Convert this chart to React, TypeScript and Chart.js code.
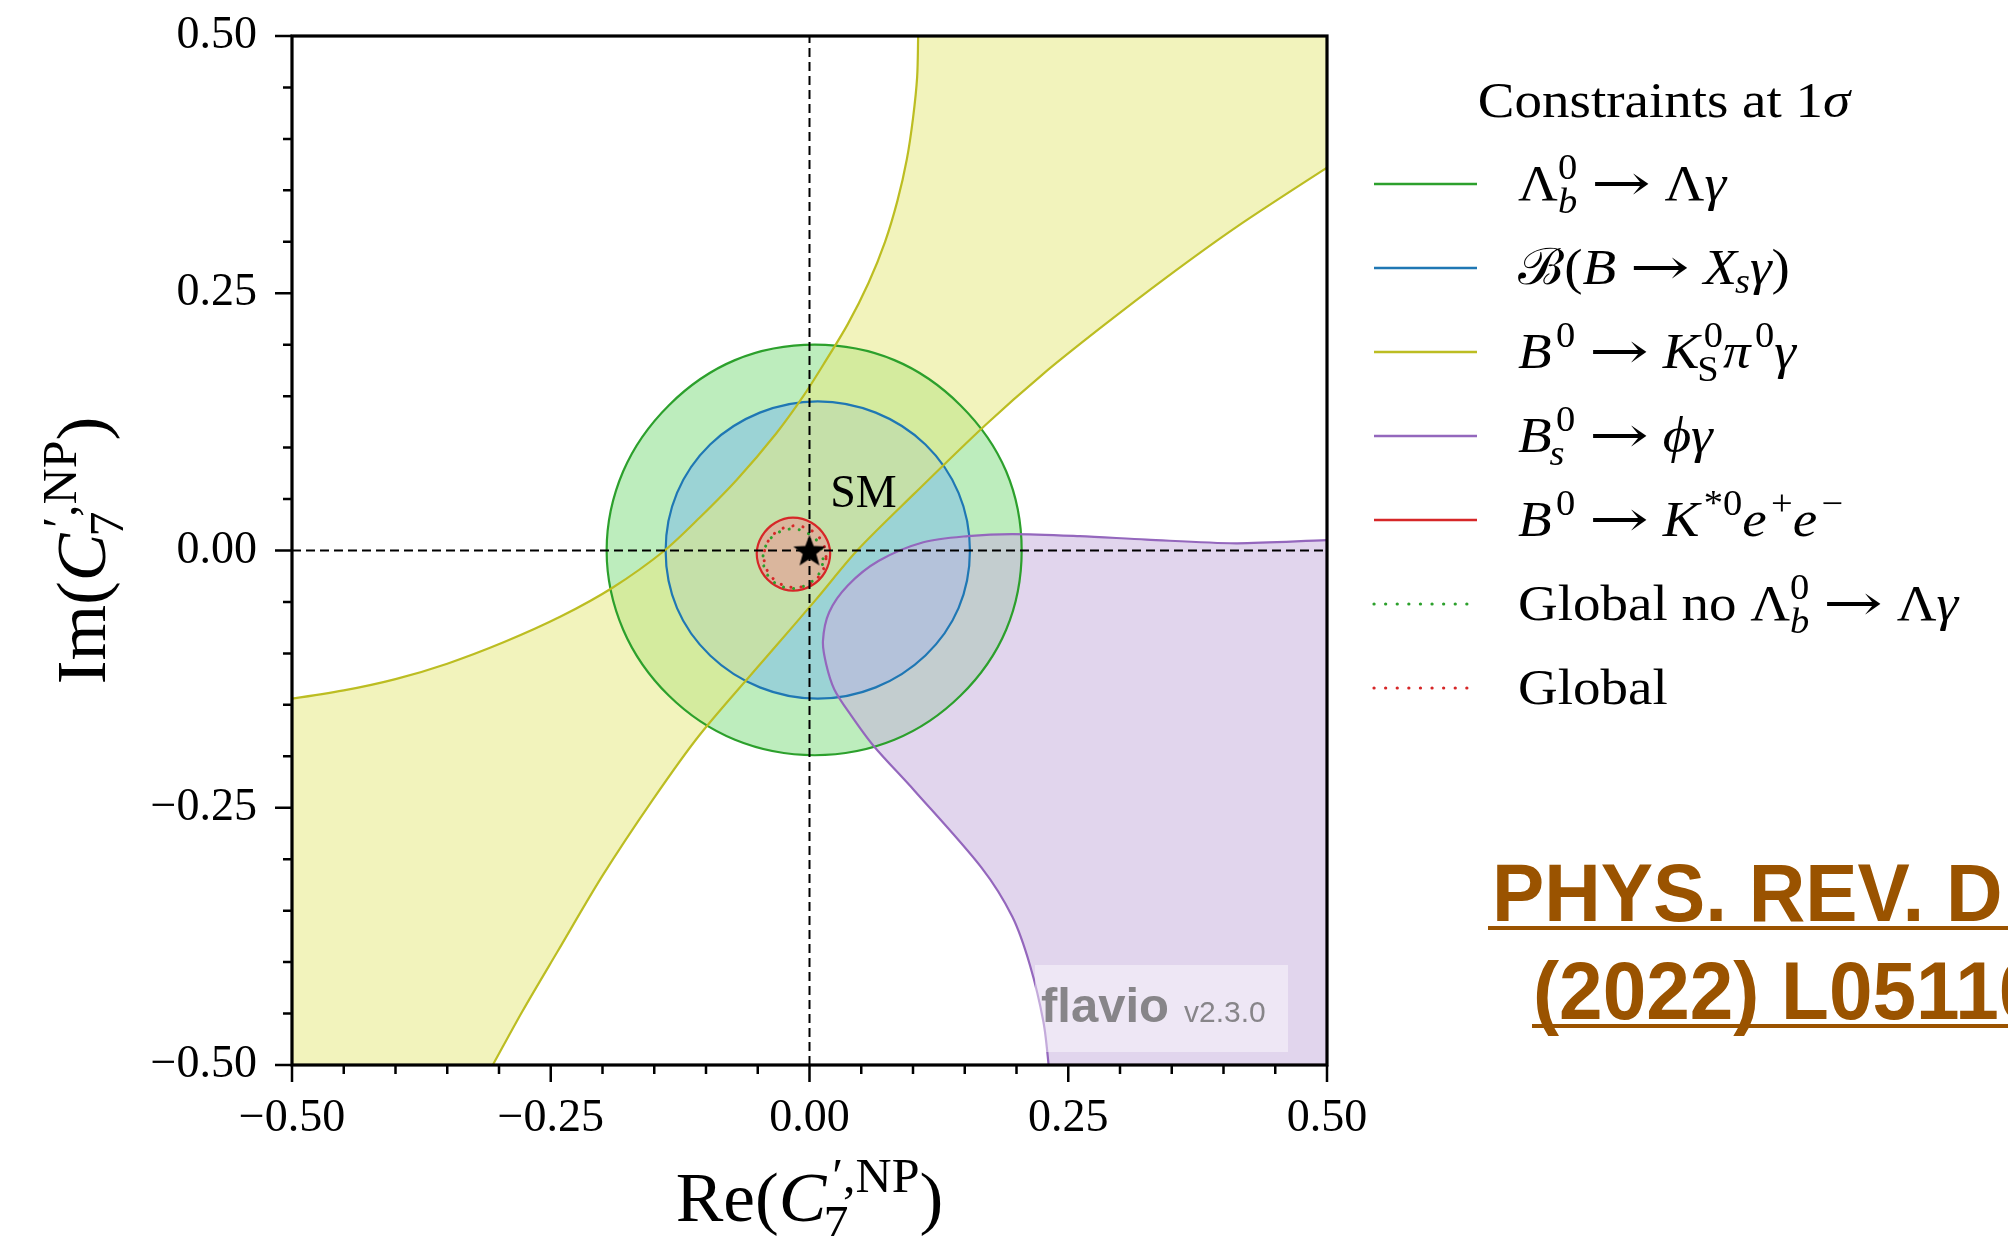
import React, { useEffect, useRef } from 'react';
import { Chart, registerables } from 'chart.js';

Chart.register(...registerables);

type Pt = [number, number];
type Run = { t: string; i?: boolean; f?: string; sx?: number; sup?: Run; sub?: Run };

const SERIF = '"Liberation Serif", "DejaVu Serif", serif';
const ARROW_FONT = '"DejaVu Serif", "DejaVu Sans", serif';
const SANS = '"Liberation Sans", Arial, sans-serif';

// ---- axis ticks ----
const majorTicks = [-0.5, -0.25, 0, 0.25, 0.5];
const minorTicks = [-0.45, -0.4, -0.35, -0.3, -0.2, -0.15, -0.1, -0.05, 0.05, 0.1, 0.15, 0.2, 0.3, 0.35, 0.4, 0.45];

// ---- 1 sigma contours in the (Re C7', Im C7') plane ----
// Lambda_b -> Lambda gamma
const lambdaBContour: Pt[] = [
  [0.205, 0.0], [0.19, 0.077], [0.146, 0.141], [0.082, 0.185],
  [0.005, 0.2], [-0.072, 0.185], [-0.136, 0.141], [-0.18, 0.077],
  [-0.196, 0.0], [-0.18, -0.077], [-0.136, -0.141], [-0.072, -0.184],
  [0.005, -0.199], [0.082, -0.184], [0.146, -0.141], [0.19, -0.077],
];

// B(B -> Xs gamma)
const bXsGammaContour: Pt[] = [
  [0.155, 0.0], [0.144, 0.056], [0.112, 0.103], [0.064, 0.134],
  [0.008, 0.145], [-0.048, 0.134], [-0.096, 0.103], [-0.128, 0.056],
  [-0.139, 0.0], [-0.128, -0.056], [-0.096, -0.102], [-0.048, -0.133],
  [0.008, -0.144], [0.064, -0.133], [0.112, -0.102], [0.144, -0.056],
];

// B0 -> KS pi0 gamma (band between two branches, closed outside the frame)
const kspi0GammaBand: Pt[] = [
  [0.107, 0.58], [0.106, 0.54], [0.105, 0.5], [0.104, 0.46], [0.1, 0.42],
  [0.094, 0.38], [0.085, 0.34], [0.073, 0.3], [0.057, 0.26], [0.037, 0.22],
  [0.013, 0.18], [-0.006, 0.15], [-0.032, 0.114], [-0.07, 0.069], [-0.106, 0.032],
  [-0.14, 0.0], [-0.19, -0.036], [-0.24, -0.064], [-0.295, -0.089], [-0.35, -0.11],
  [-0.4, -0.125], [-0.45, -0.136], [-0.5, -0.144], [-0.54, -0.149], [-0.58, -0.153],
  [-0.7, -0.7],
  [-0.35, -0.58], [-0.328, -0.54], [-0.306, -0.5], [-0.2775, -0.448], [-0.243, -0.389],
  [-0.2, -0.316], [-0.152, -0.243], [-0.106, -0.179], [-0.036, -0.097], [0.006, -0.048],
  [0.046, 0.0], [0.101, 0.055], [0.17, 0.122], [0.225, 0.171], [0.282, 0.217],
  [0.343, 0.264], [0.412, 0.314], [0.5, 0.372], [0.54, 0.397], [0.58, 0.421],
  [0.7, 0.7],
];

// Bs -> phi gamma (region to the lower right of the curve)
const bsPhiGammaRegion: Pt[] = [
  [0.58, 0.012], [0.54, 0.011], [0.5, 0.01], [0.412, 0.007], [0.3255, 0.0106],
  [0.261, 0.014], [0.196, 0.016], [0.153, 0.014], [0.11, 0.008], [0.067, -0.01],
  [0.037, -0.034], [0.019, -0.06], [0.013, -0.088], [0.016, -0.11], [0.024, -0.135],
  [0.04, -0.16], [0.062, -0.19], [0.101, -0.233], [0.166, -0.308], [0.196, -0.356],
  [0.213, -0.403], [0.226, -0.458], [0.231, -0.5], [0.234, -0.54], [0.236, -0.58],
  [0.7, -0.7],
];

// B0 -> K*0 e+ e-
const kstarEEContour: Pt[] = [
  [0.02, -0.003], [0.015, 0.014], [0.002, 0.027], [-0.016, 0.032],
  [-0.033, 0.027], [-0.046, 0.014], [-0.051, -0.003], [-0.046, -0.021],
  [-0.033, -0.034], [-0.016, -0.039], [0.002, -0.034], [0.015, -0.021],
];

// Global fit without Lambda_b -> Lambda gamma
const globalNoLambdaBContour: Pt[] = [
  [0.013, -0.008], [0.009, 0.007], [-0.002, 0.017], [-0.016, 0.021],
  [-0.031, 0.017], [-0.041, 0.007], [-0.045, -0.008], [-0.041, -0.023],
  [-0.031, -0.033], [-0.016, -0.037], [-0.002, -0.033], [0.009, -0.023],
];

// Global fit
const globalContour: Pt[] = [
  [0.016, -0.006], [0.012, 0.009], [0.001, 0.02], [-0.014, 0.024],
  [-0.029, 0.02], [-0.04, 0.009], [-0.044, -0.006], [-0.04, -0.021],
  [-0.029, -0.032], [-0.014, -0.036], [0.001, -0.032], [0.012, -0.021],
];

const zeroLineRe: Pt[] = [[0, -0.5], [0, 0.5]];
const zeroLineIm: Pt[] = [[-0.5, 0], [0.5, 0]];
const smPoint: Pt[] = [[0, 0]];
const smLabel = { x: 0.02, y: 0.042, text: 'SM' };

// ---- legend ----
const sp: Run = { t: ' ' };
const arrowGlyph: Run = { t: '→', f: ARROW_FONT, sx: 1.3 };
const arrow: Run[] = [sp, arrowGlyph, sp];
const legendTitle: Run[] = [{ t: 'Constraints at 1' }, { t: 'σ', i: true }];
const legendLabels: Run[][] = [
  [{ t: 'Λ', sub: { t: 'b', i: true }, sup: { t: '0' } }, ...arrow, { t: 'Λ' }, { t: 'γ', i: true }],
  [{ t: 'ℬ' }, { t: '(' }, { t: 'B', i: true }, ...arrow, { t: 'X', i: true, sub: { t: 's', i: true } }, { t: 'γ', i: true }, { t: ')' }],
  [{ t: 'B', i: true, sup: { t: '0' } }, ...arrow, { t: 'K', i: true, sub: { t: 'S' }, sup: { t: '0' } }, { t: 'π', i: true, sup: { t: '0' } }, { t: 'γ', i: true }],
  [{ t: 'B', i: true, sub: { t: 's', i: true }, sup: { t: '0' } }, ...arrow, { t: 'ϕ', i: true }, { t: 'γ', i: true }],
  [{ t: 'B', i: true, sup: { t: '0' } }, ...arrow, { t: 'K', i: true, sup: { t: '*0' } }, { t: 'e', i: true, sup: { t: '+' } }, { t: 'e', i: true, sup: { t: '−' } }],
  [{ t: 'Global no ' }, { t: 'Λ', sub: { t: 'b', i: true }, sup: { t: '0' } }, ...arrow, { t: 'Λ' }, { t: 'γ', i: true }],
  [{ t: 'Global' }],
];
const legendColors = ['#2ca02c', '#1f77b4', '#bcbd22', '#9467bd', '#d62728', '#2ca02c', '#d62728'];
const legendDotted = [false, false, false, false, false, true, true];

const xTitle: Run[] = [{ t: 'Re(' }, { t: 'C', i: true, sup: { t: '′,NP' }, sub: { t: '7' } }, { t: ')' }];
const yTitle: Run[] = [{ t: 'Im(' }, { t: 'C', i: true, sup: { t: '′,NP' }, sub: { t: '7' } }, { t: ')' }];

const journalLines = ['PHYS. REV. D 105', '(2022) L051104'];

const toXY = (pts: Pt[]) => pts.map(([x, y]) => ({ x, y }));
const fmtTick = (v: number) => v.toFixed(2).replace('-', '−');

function fontOf(size: number, italic?: boolean, family?: string) {
  return `${italic ? 'italic ' : ''}${size}px ${family || SERIF}`;
}

function runWidth(ctx: CanvasRenderingContext2D, r: Run, size: number) {
  ctx.font = fontOf(size, r.i, r.f);
  const w = ctx.measureText(r.t).width * (r.sx || 1);
  const s = size * 0.7;
  let sw = 0;
  if (r.sup) {
    ctx.font = fontOf(s, r.sup.i, r.sup.f);
    sw = Math.max(sw, ctx.measureText(r.sup.t).width + (r.i ? size * 0.08 : 0));
  }
  if (r.sub) {
    ctx.font = fontOf(s, r.sub.i, r.sub.f);
    sw = Math.max(sw, ctx.measureText(r.sub.t).width);
  }
  return w + sw;
}

function drawRuns(
  ctx: CanvasRenderingContext2D,
  runs: Run[],
  x: number,
  y: number,
  size: number,
  align: 'left' | 'center',
  hs = 1,
) {
  const total = runs.reduce((acc, r) => acc + runWidth(ctx, r, size), 0) * hs;
  const x0 = align === 'center' ? x - total / 2 : x;
  ctx.save();
  ctx.translate(x0, y);
  ctx.scale(hs, 1);
  ctx.textAlign = 'left';
  ctx.textBaseline = 'alphabetic';
  let cx = 0;
  for (const r of runs) {
    ctx.font = fontOf(size, r.i, r.f);
    const sx = r.sx || 1;
    const w = ctx.measureText(r.t).width * sx;
    if (sx !== 1) {
      ctx.save();
      ctx.translate(cx, 0);
      ctx.scale(sx, 1);
      ctx.fillText(r.t, 0, 0);
      ctx.restore();
    } else {
      ctx.fillText(r.t, cx, 0);
    }
    const s = size * 0.7;
    let sw = 0;
    if (r.sup) {
      const off = r.i ? size * 0.08 : 0;
      ctx.font = fontOf(s, r.sup.i, r.sup.f);
      ctx.fillText(r.sup.t, cx + w + off, -size * 0.42);
      sw = Math.max(sw, ctx.measureText(r.sup.t).width + off);
    }
    if (r.sub) {
      const off = r.i ? -size * 0.04 : 0;
      ctx.font = fontOf(s, r.sub.i, r.sub.f);
      ctx.fillText(r.sub.t, cx + w + off, size * (r.sup ? 0.26 : 0.18));
      sw = Math.max(sw, ctx.measureText(r.sub.t).width + off);
    }
    cx += w + sw;
  }
  ctx.restore();
}

function makeStar(r: number) {
  const c = document.createElement('canvas');
  const size = Math.ceil(r * 2 + 4);
  c.width = size;
  c.height = size;
  const g = c.getContext('2d')!;
  g.translate(size / 2, size / 2 + r * 0.08);
  g.beginPath();
  for (let k = 0; k < 10; k++) {
    const rad = k % 2 === 0 ? r : r * 0.42;
    const ang = -Math.PI / 2 + (k * Math.PI) / 5;
    const px = rad * Math.cos(ang);
    const py = rad * Math.sin(ang);
    if (k === 0) g.moveTo(px, py);
    else g.lineTo(px, py);
  }
  g.closePath();
  g.fillStyle = '#000';
  g.fill();
  return c;
}

// Closed contours: treat the line element as a loop so the spline wraps smoothly.
const closedLoopPlugin = {
  id: 'closedLoop',
  afterDatasetsUpdate(chart: any) {
    chart.data.datasets.forEach((ds: any, i: number) => {
      if (!ds.closed) return;
      const line: any = chart.getDatasetMeta(i).dataset;
      if (!line) return;
      line._loop = true;
      line._fullLoop = true;
      line._pointsUpdated = false;
      line._segments = undefined;
      line._path = undefined;
    });
  },
};

const decorPlugin = {
  id: 'decor',
  afterDatasetsDraw(chart: any) {
    const { ctx, chartArea: a, scales } = chart;
    const xs = scales.x;
    const ys = scales.y;
    ctx.save();
    // SM label
    ctx.fillStyle = '#000';
    ctx.font = fontOf(46);
    ctx.textAlign = 'left';
    ctx.textBaseline = 'alphabetic';
    ctx.fillText(smLabel.text, xs.getPixelForValue(smLabel.x), ys.getPixelForValue(smLabel.y));

    // flavio watermark
    ctx.fillStyle = 'rgba(255,255,255,0.45)';
    ctx.fillRect(a.right - 292, a.bottom - 100, 253, 87);
    ctx.fillStyle = 'rgba(100,100,100,0.75)';
    ctx.font = `bold 49px ${SANS}`;
    ctx.fillText('flavio', a.right - 286, a.bottom - 43);
    ctx.font = `30px ${SANS}`;
    ctx.fillText('v2.3.0', a.right - 143, a.bottom - 43);

    // tick marks (outside, left and bottom)
    ctx.strokeStyle = '#000';
    ctx.lineWidth = 2.5;
    ctx.beginPath();
    for (const v of majorTicks) {
      const px = xs.getPixelForValue(v);
      ctx.moveTo(px, a.bottom);
      ctx.lineTo(px, a.bottom + 17);
      const py = ys.getPixelForValue(v);
      ctx.moveTo(a.left, py);
      ctx.lineTo(a.left - 17, py);
    }
    for (const v of minorTicks) {
      const px = xs.getPixelForValue(v);
      ctx.moveTo(px, a.bottom);
      ctx.lineTo(px, a.bottom + 9);
      const py = ys.getPixelForValue(v);
      ctx.moveTo(a.left, py);
      ctx.lineTo(a.left - 9, py);
    }
    ctx.stroke();

    // frame
    ctx.lineWidth = 3.2;
    ctx.strokeRect(a.left, a.top, a.right - a.left, a.bottom - a.top);
    ctx.restore();
  },
  afterDraw(chart: any) {
    const { ctx, chartArea: a } = chart;
    ctx.save();
    ctx.fillStyle = '#000';

    // axis titles
    drawRuns(ctx, xTitle, (a.left + a.right) / 2, a.bottom + 156, 70, 'center', 1.02);
    ctx.save();
    ctx.translate(105, (a.top + a.bottom) / 2);
    ctx.rotate(-Math.PI / 2);
    drawRuns(ctx, yTitle, 0, 0, 70, 'center', 1.02);
    ctx.restore();

    // legend
    drawRuns(ctx, legendTitle, a.right + 337, a.top + 81, 50, 'center', 1.1);
    legendLabels.forEach((runs, k) => {
      const y = a.top + 148 + k * 84;
      ctx.save();
      ctx.strokeStyle = legendColors[k];
      if (legendDotted[k]) {
        ctx.lineWidth = 3.2;
        ctx.lineCap = 'round';
        ctx.setLineDash([0.1, 11.5]);
      } else {
        ctx.lineWidth = 2.5;
      }
      ctx.beginPath();
      ctx.moveTo(a.right + 47, y);
      ctx.lineTo(a.right + 150, y);
      ctx.stroke();
      ctx.restore();
      ctx.fillStyle = '#000';
      drawRuns(ctx, runs, a.right + 191, y + 16, 50, 'left', 1.1);
    });

    // reference note
    ctx.fillStyle = '#9a5300';
    ctx.font = `bold 82px ${SANS}`;
    ctx.textAlign = 'left';
    ctx.textBaseline = 'alphabetic';
    ctx.save();
    ctx.translate(1492, 921);
    ctx.scale(0.955, 1);
    ctx.fillText(journalLines[0], 0, 0);
    ctx.restore();
    ctx.fillRect(1488, 926, 600, 4);
    ctx.save();
    ctx.translate(1533, 1019);
    ctx.scale(0.955, 1);
    ctx.fillText(journalLines[1], 0, 0);
    ctx.restore();
    ctx.fillRect(1532, 1024, 600, 4);
    ctx.restore();
  },
};

export default function App() {
  const ref = useRef<HTMLCanvasElement>(null);

  useEffect(() => {
    const canvas = ref.current;
    if (!canvas) return;
    const star = makeStar(17);
    const contour = {
      showLine: true,
      pointRadius: 0,
      pointHoverRadius: 0,
      pointHitRadius: 0,
      capBezierPoints: false,
    };
    const chart = new Chart(canvas, {
      type: 'scatter',
      data: {
        datasets: [
          { ...contour, label: 'Λb → Λγ', data: toXY(lambdaBContour), borderColor: '#2ca02c', backgroundColor: 'rgba(135,222,135,0.55)', borderWidth: 2.2, fill: 'shape', tension: 0.35, closed: true, order: 10 } as any,
          { ...contour, label: 'B → Xsγ', data: toXY(bXsGammaContour), borderColor: '#1f77b4', backgroundColor: 'rgba(128,189,233,0.55)', borderWidth: 2.2, fill: 'shape', tension: 0.35, closed: true, order: 9 } as any,
          { ...contour, label: 'B0 → KSπ0γ', data: toXY(kspi0GammaBand), borderColor: '#bcbd22', backgroundColor: 'rgba(232,233,133,0.55)', borderWidth: 2.2, fill: 'shape', tension: 0.3, order: 8 } as any,
          { ...contour, label: 'Bs → φγ', data: toXY(bsPhiGammaRegion), borderColor: '#9467bd', backgroundColor: 'rgba(201,179,222,0.55)', borderWidth: 2.2, fill: 'shape', tension: 0.3, order: 7 } as any,
          { ...contour, label: 'B0 → K*0e+e−', data: toXY(kstarEEContour), borderColor: '#d62728', backgroundColor: 'rgba(235,148,147,0.55)', borderWidth: 2.2, fill: 'shape', tension: 0.35, closed: true, order: 6 } as any,
          { ...contour, label: 'Global no Λb → Λγ', data: toXY(globalNoLambdaBContour), borderColor: '#2ca02c', borderWidth: 3, borderDash: [0.1, 10], borderCapStyle: 'round', fill: false, tension: 0.35, closed: true, order: 5 } as any,
          { ...contour, label: 'Global', data: toXY(globalContour), borderColor: '#d62728', borderWidth: 3, borderDash: [0.1, 10], borderCapStyle: 'round', fill: false, tension: 0.35, closed: true, order: 4 } as any,
          { ...contour, label: 'Re = 0', data: toXY(zeroLineRe), borderColor: '#000', borderWidth: 2, borderDash: [9, 5], fill: false, order: 3 } as any,
          { ...contour, label: 'Im = 0', data: toXY(zeroLineIm), borderColor: '#000', borderWidth: 2, borderDash: [9, 5], fill: false, order: 3 } as any,
          { label: 'SM', data: toXY(smPoint), showLine: false, pointStyle: star, pointRadius: 17, pointHoverRadius: 17, order: 1 } as any,
        ],
      },
      options: {
        responsive: false,
        maintainAspectRatio: false,
        animation: false,
        devicePixelRatio: 1,
        events: [],
        layout: { padding: { left: 0, top: 36, right: 681, bottom: 0 } },
        plugins: {
          legend: { display: false },
          tooltip: { enabled: false },
          filler: { drawTime: 'beforeDatasetsDraw' },
        },
        scales: {
          x: {
            type: 'linear',
            position: 'bottom',
            min: -0.5,
            max: 0.5,
            grid: { display: false, drawTicks: false },
            border: { display: false },
            afterBuildTicks: (s: any) => { s.ticks = majorTicks.map((v) => ({ value: v })); },
            afterFit: (s: any) => { s.height = 171; s.paddingLeft = 0; s.paddingRight = 0; },
            ticks: {
              autoSkip: false,
              maxRotation: 0,
              minRotation: 0,
              padding: 26,
              color: '#000',
              font: { family: SERIF, size: 46 },
              callback: (v: any) => fmtTick(Number(v)),
            },
          },
          y: {
            type: 'linear',
            position: 'left',
            min: -0.5,
            max: 0.5,
            grid: { display: false, drawTicks: false },
            border: { display: false },
            afterBuildTicks: (s: any) => { s.ticks = majorTicks.map((v) => ({ value: v })); },
            afterFit: (s: any) => { s.width = 292; s.paddingTop = 0; s.paddingBottom = 0; },
            ticks: {
              autoSkip: false,
              padding: 35,
              color: '#000',
              font: { family: SERIF, size: 46 },
              callback: (v: any) => fmtTick(Number(v)),
            },
          },
        },
      } as any,
      plugins: [closedLoopPlugin, decorPlugin],
    });
    return () => chart.destroy();
  }, []);

  return (
    <div style={{ position: 'fixed', left: 0, top: 0, width: 2008, height: 1236, background: '#fff', overflow: 'hidden' }}>
      <canvas ref={ref} width={2008} height={1236} style={{ display: 'block', width: 2008, height: 1236 }} />
    </div>
  );
}
